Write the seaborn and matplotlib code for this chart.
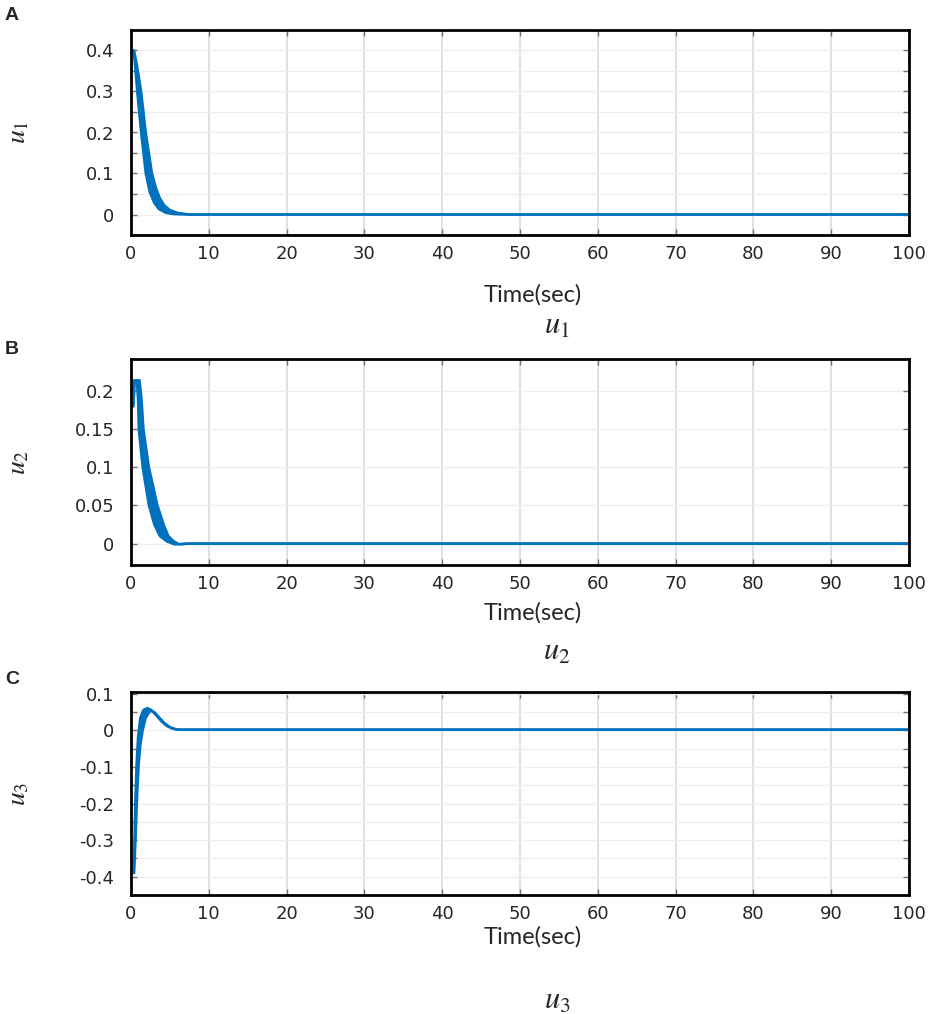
import numpy as np
import matplotlib
matplotlib.use('Agg')
import matplotlib.pyplot as plt
import seaborn as sns
from matplotlib.ticker import MultipleLocator, FuncFormatter

# u1: the thick band is bounded by a fast and a slow response curve
t_u1_fast = [0.3, 0.5, 0.8, 1.05, 1.3, 1.6, 1.9, 2.4, 3.0, 3.6, 4.5, 5.5, 7.0, 10, 100]
u1_fast = [0.40, 0.37, 0.30, 0.25, 0.20, 0.15, 0.10, 0.055, 0.028, 0.013, 0.004, 0.001, 0.0, 0.0, 0.0]
t_u1_slow = [0.4, 0.8, 1.3, 1.6, 1.9, 2.3, 2.7, 3.2, 3.7, 4.3, 5.0, 6.0, 7.5, 10, 100]
u1_slow = [0.40, 0.36, 0.30, 0.25, 0.20, 0.15, 0.10, 0.065, 0.04, 0.022, 0.011, 0.004, 0.0, 0.0, 0.0]

# u2
t_u2_fast = [0.3, 0.35, 0.75, 0.9, 1.0, 1.25, 1.5, 1.9, 2.3, 3.0, 3.7, 4.6, 5.6, 7.0, 100]
u2_fast = [0.18, 0.214, 0.214, 0.19, 0.15, 0.125, 0.10, 0.075, 0.05, 0.025, 0.01, 0.003, -0.001, 0.0, 0.0]
t_u2_slow = [0.3, 0.5, 1.1, 1.35, 1.6, 1.95, 2.3, 2.85, 3.4, 4.2, 4.8, 5.5, 6.2, 7.5, 10, 100]
u2_slow = [0.18, 0.214, 0.214, 0.19, 0.15, 0.125, 0.10, 0.075, 0.05, 0.025, 0.01, 0.003, -0.001, 0.0, 0.0, 0.0]

# u3
t_u3_fast = [0.35, 0.45, 0.55, 0.7, 0.9, 1.2, 1.6, 2.1, 2.6, 3.2, 3.9, 4.6, 5.3, 6.0, 7.0, 10, 100]
u3_fast = [-0.39, -0.30, -0.20, -0.10, -0.02, 0.035, 0.056, 0.061, 0.056, 0.042, 0.025, 0.012, 0.005, 0.002, 0.002, 0.002, 0.002]
t_u3_slow = [0.4, 0.6, 0.8, 1.0, 1.2, 1.5, 1.9, 2.5, 3.0, 3.6, 4.3, 5.0, 5.8, 6.5, 7.5, 10, 100]
u3_slow = [-0.39, -0.29, -0.17, -0.09, -0.04, 0.0, 0.035, 0.054, 0.05, 0.036, 0.02, 0.009, 0.003, 0.002, 0.002, 0.002, 0.002]

sns.set_theme(style='white')
plt.rcParams['font.family'] = ['DejaVu Sans']
plt.rcParams['mathtext.fontset'] = 'stix'
plt.rcParams['axes.unicode_minus'] = False

line_color = '#0072BD'
W, H = 935, 1014

fig = plt.figure(figsize=(W / 100, H / 100), dpi=100)

panels = [
    # letter, (top px, bottom px), ylim, major, minor, curves, name, label y px, letter y px
    ('A', (30, 235), (-0.05, 0.45), 0.1, 0.05,
     (t_u1_fast, u1_fast, t_u1_slow, u1_slow), '1', (295, 326), 15),
    ('B', (359, 565), (-0.028, 0.242), 0.05, None,
     (t_u2_fast, u2_fast, t_u2_slow, u2_slow), '2', (613, 651), 350),
    ('C', (692, 895), (-0.45, 0.105), 0.1, 0.05,
     (t_u3_fast, u3_fast, t_u3_slow, u3_slow), '3', (937, 1000), 680),
]

for letter, (top, bot), ylim, major, minor, curves, name, (ty, sy), ly in panels:
    ax = fig.add_axes([131 / W, 1 - bot / H, (909 - 131) / W, (bot - top) / H])
    ta, ua, tb, ub = curves

    # band between the two responses
    ax.fill(np.r_[ta, tb[::-1]], np.r_[ua, ub[::-1]], color=line_color, lw=0)
    sns.lineplot(x=ta, y=ua, ax=ax, color=line_color, lw=1.8, sort=False, estimator=None)
    sns.lineplot(x=tb, y=ub, ax=ax, color=line_color, lw=1.8, sort=False, estimator=None)

    ax.set_xlim(0, 100)
    ax.set_ylim(*ylim)
    ax.xaxis.set_major_locator(MultipleLocator(10))
    ax.yaxis.set_major_locator(MultipleLocator(major))
    if minor:
        ax.yaxis.set_minor_locator(MultipleLocator(minor))
    ax.yaxis.set_major_formatter(FuncFormatter(lambda v, p: '%g' % round(v, 3)))

    ax.grid(which='major', axis='x', color='#dcdcdc', lw=1.2)
    ax.grid(which='both', axis='y', color='#efefef', lw=1.0)
    ax.set_axisbelow(True)

    for s in ax.spines.values():
        s.set_color('black')
        s.set_linewidth(2.0)
    ax.tick_params(which='both', direction='in', top=True, right=True,
                   color='0.45', length=4, width=1)
    ax.tick_params(axis='y', which='both', left=True, pad=12, labelsize=13)
    ax.tick_params(axis='x', which='both', bottom=True, pad=7, labelsize=13)
    ax.set_xlabel('')
    ax.set_ylabel('')

    fig.text(17 / W, 1 - (top + bot) / 2 / H, '$u_%s$' % name, rotation=90,
             ha='center', va='center', fontsize=20)
    fig.text(533 / W, 1 - ty / H, 'Time(sec)', ha='center', va='center',
             fontsize=17, family=['Lato', 'DejaVu Sans'])
    fig.text(557 / W, 1 - sy / H, '$u_%s$' % name, ha='center', va='center', fontsize=22)
    fig.text(12 / W, 1 - ly / H, letter, ha='center', va='center',
             fontsize=14, fontweight='bold', family=['Liberation Sans', 'DejaVu Sans'])

fig.savefig('out.png', dpi=100)
